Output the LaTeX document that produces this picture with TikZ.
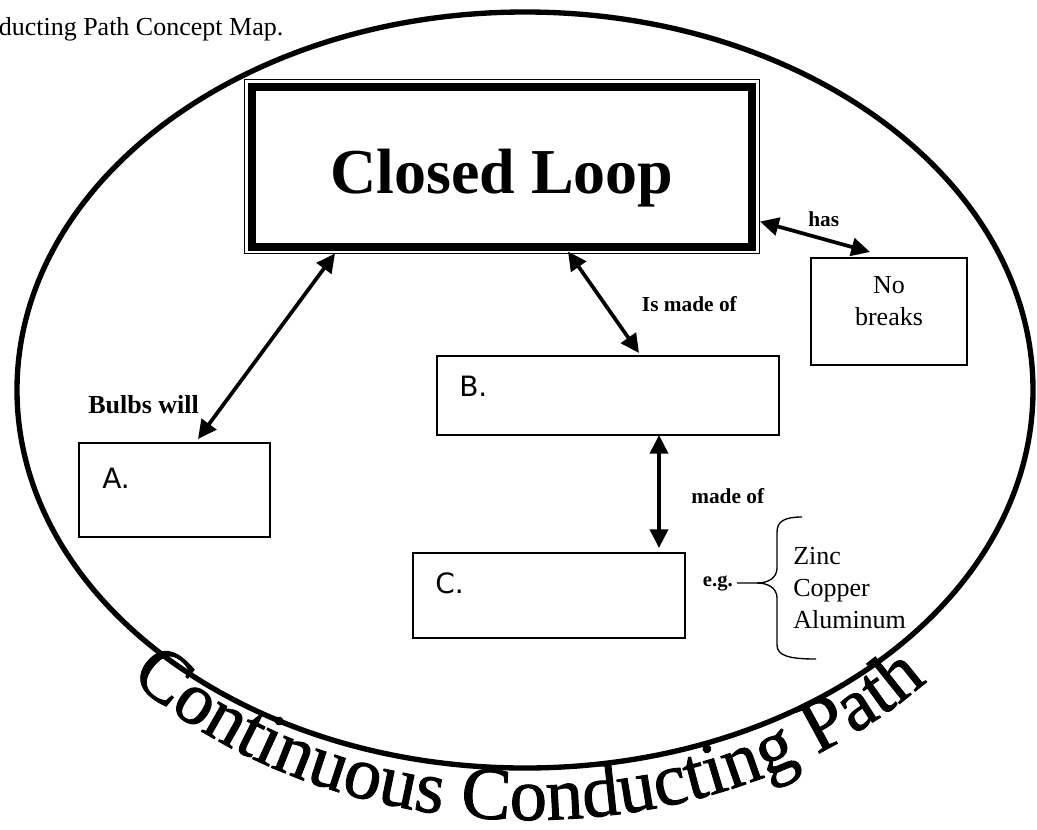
\documentclass[tikz,border=0pt]{standalone}
\usepackage{fontspec}
\setmainfont{Liberation Serif}
\newfontfamily\handfont{DejaVu Sans}
\newfontfamily\arcfont[FakeBold=1.2]{Liberation Serif}
\newcommand\curvefont{\arcfont\fontsize{56}{60}\selectfont}
\usetikzlibrary{arrows.meta,calc,decorations.text}

\begin{document}
\begin{tikzpicture}[x=0.75pt,y=-0.75pt,
		box/.style={draw,line width=1.5pt,inner sep=0pt,outer sep=0pt},
		link/.style={line width=2.8pt,{Triangle[length=14pt,width=13.5pt]}-{Triangle[length=14pt,width=13.5pt]}},
		tag/.style={font=\handfont\fontsize{21}{25}\selectfont,inner sep=0pt,anchor=base west},
		verb/.style={font=\bfseries\fontsize{16}{19}\selectfont,inner sep=0pt,anchor=base west},
		body/.style={font=\fontsize{19.5}{24}\selectfont,inner sep=0pt},
		brace/.style={line width=1pt}]
	\useasboundingbox (0,0) rectangle (1037,829);
	\node[body,anchor=base west] (title) at (-1.5,35) {ducting Path Concept Map.};
	\draw[line width=4pt] (525,390) ellipse [x radius=508,y radius=378];
	% main box
	\node[draw,line width=6pt,inner sep=0pt,outer sep=0pt,minimum width=375pt,minimum height=120pt] (loop) at (502,166.5) {};
	\draw[line width=1pt] ($(loop.north west)+(-7.5,-7)$) rectangle ($(loop.south east)+(7.5,7)$);
	\node[font=\bfseries\fontsize{48}{56}\selectfont,inner sep=0pt,anchor=base] (looptext) at (502,193.5) {Closed Loop};
	% boxes
	\node[box,minimum width=143.25pt,minimum height=70.5pt] (A) at (174.5,490) {};
	\node[box,minimum width=256.5pt,minimum height=59.25pt] (B) at (608,395.5) {};
	\node[box,minimum width=204pt,minimum height=63.75pt] (C) at (549,595.5) {};
	\node[box,line width=1.2pt,minimum width=117pt,minimum height=80.25pt] (nb) at (889,311.5) {};
	\node[tag] (Atag) at ($(A.north west)+(23,45)$) {A.};
	\node[tag] (Btag) at ($(B.north west)+(22,40)$) {B.};
	\node[tag] (Ctag) at ($(C.north west)+(22,40)$) {C.};
	\node[body,anchor=north,align=center] (nbtext) at ($(nb.north)+(0,18)$) {No\\breaks};
	% links
	\draw[link] ($(loop.south west)+(83,7)$) -- ($(A.north west)+(119,-4)$);
	\draw[link] ($(loop.south west)+(316,5)$) -- ($(B.north west)+(202,-3)$);
	\draw[link] ($(loop.south east)+(8,-25)$) -- ($(nb.north west)+(59,-6)$);
	\draw[link] ($(B.south west)+(222,0)$) -- ($(C.north west)+(246,-5)$);
	\node[verb,font=\bfseries\fontsize{19.5}{23}\selectfont] (bulbs) at (88,413) {Bulbs will};
	\node[verb] (ismade) at (641.7,311.7) {Is made of};
	\node[verb] (has) at (808,226) {has};
	\node[verb] (made) at (691,503) {made of};
	% examples
	\node[verb,anchor=east,font=\bfseries\fontsize{15.5}{18}\selectfont] (eg) at (733,583) {e.g.};
	\coordinate (tip) at (757,583);
	\draw[brace] ($(eg.east)+(4,0)$) -- (tip) .. controls (768,583) and (777,578) .. (777,568) -- (777,532) .. controls (777,521) and (785,517) .. (802,517);
	\draw[brace] (tip) .. controls (768,583) and (777,588) .. (777,598) -- (777,645) .. controls (777,656) and (790,659) .. (816,659);
	\node[body,anchor=north west,align=left] (metals) at (793,547.5) {Zinc\\Copper\\Aluminum};
	% curved title
	\path[decorate,decoration={text along path,text={|\curvefont|Continuous Conducting Path},text align=left}]
		(130,678.7) arc [start angle=137.8,end angle=30,x radius=540,y radius=430];
\end{tikzpicture}
\end{document}
